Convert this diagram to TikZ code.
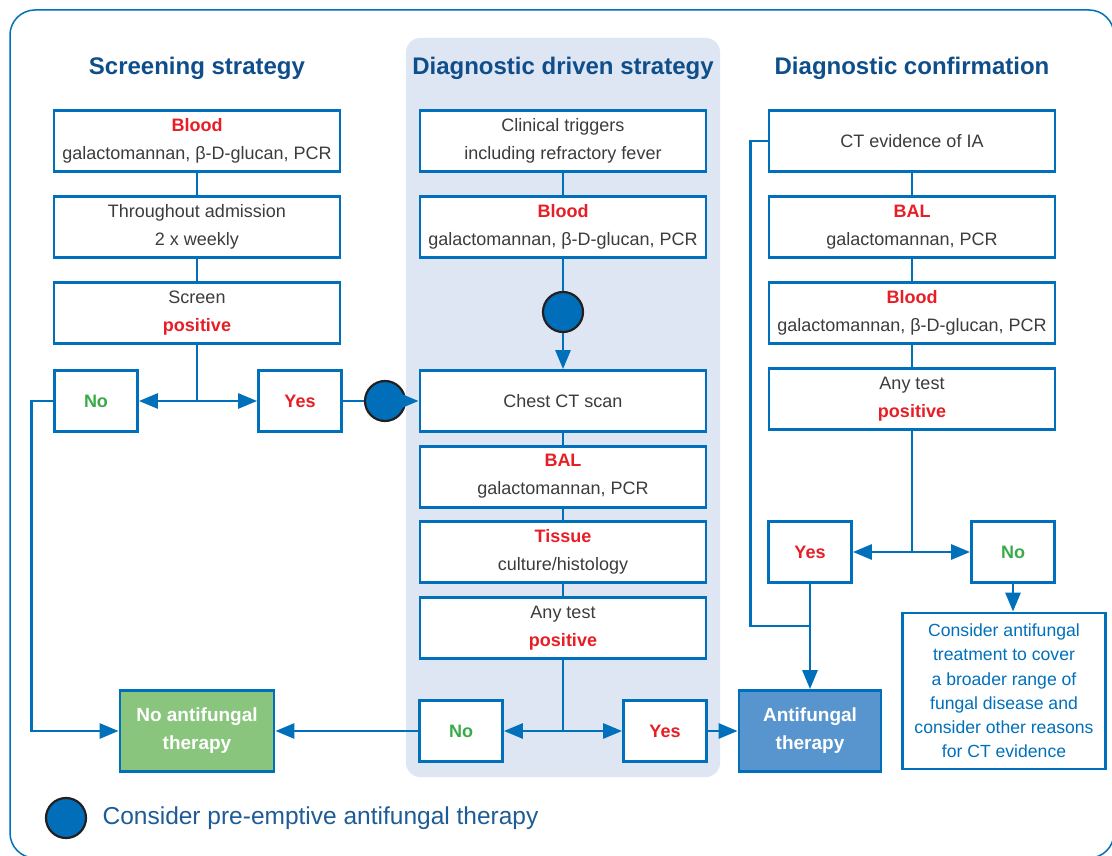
\documentclass[tikz,border=0pt]{standalone}
\usepackage{fontspec}
\setmainfont{Liberation Sans}
\usepackage{xcolor}
\usepackage{tikz}
\usetikzlibrary{arrows.meta,positioning}

\definecolor{lineblue}{RGB}{0,112,187}
\definecolor{titleblue}{RGB}{14,78,138}
\definecolor{legblue}{RGB}{30,92,150}
\definecolor{colshade}{RGB}{223,230,243}
\definecolor{redtxt}{RGB}{232,30,38}
\definecolor{greentxt}{RGB}{58,170,73}
\definecolor{greenfill}{RGB}{138,197,126}
\definecolor{afblue}{RGB}{88,149,206}
\definecolor{bodytxt}{RGB}{60,60,60}
\definecolor{dotblue}{RGB}{0,110,185}
\definecolor{dotrim}{RGB}{35,31,32}

\newcommand{\hl}[1]{\textcolor{redtxt}{\bfseries #1}}
\newcommand{\gn}[1]{\textcolor{greentxt}{#1}}

\begin{document}
\begin{tikzpicture}[
  x=1pt, y=-1pt,
  unit/.style={rectangle, draw=lineblue, line width=2.8pt, fill=white,
               minimum width=286pt, minimum height=61pt, inner sep=0pt,
               align=center, text=bodytxt, font=\fontsize{18}{28}\selectfont},
  answer/.style={unit, minimum width=83pt,
                 font=\fontsize{18}{28}\selectfont\bfseries},
  outcome/.style={unit, minimum height=81pt, text=white,
                  font=\fontsize{19}{28}\selectfont\bfseries},
  heading/.style={font=\fontsize{24}{28}\selectfont\bfseries, text=titleblue},
  dot/.style={circle, fill=dotblue, draw=dotrim, line width=2.2pt,
              minimum size=40pt, inner sep=0pt},
  link/.style={draw=lineblue, line width=2.8pt},
  arr/.style={link, -{Triangle[length=19pt,width=15pt]}},
]
  \fill[white] (0,0) rectangle (1112,856);
  \clip (0,0) rectangle (1112,856);

  % frame and shaded middle column
  \draw[lineblue, line width=1.5pt, rounded corners=25pt] (10,10) rectangle (1114,858);
  \fill[colshade, rounded corners=14pt] (406,38) rectangle (720,777);

  % headings
  \node[heading] (shead) at (197,68) {Screening strategy};
  \node[heading] (dhead) at (563,68) {Diagnostic driven strategy};
  \node[heading] (chead) at (912,68) {Diagnostic confirmation};

  % Screening strategy
  \node[unit] (sblood) at (197,141) {\hl{Blood}\\galactomannan, β-D-glucan, PCR};
  \node[unit, below=22.2pt of sblood] (sadmit) {Throughout admission\\2 x weekly};
  \node[unit, below=22.2pt of sadmit] (sscreen) {Screen\\\hl{positive}};
  \node[answer] (sno) at (96,401) {\gn{No}};
  \node[answer] (syes) at (300,401) {\textcolor{redtxt}{Yes}};
  \node[dot] (sdot) at (385,401) {};

  % Diagnostic driven strategy
  \node[unit] (dtrig) at (563,141) {Clinical triggers\\including refractory fever};
  \node[unit, below=22.2pt of dtrig] (dblood) {\hl{Blood}\\galactomannan, β-D-glucan, PCR};
  \node[dot] (ddot) at (563,312) {};
  \node[unit] (dct) at (563,401) {Chest CT scan};
  \node[unit, below=11.8pt of dct] (dbal) {\hl{BAL}\\galactomannan, PCR};
  \node[unit, below=11.8pt of dbal] (dtissue) {\hl{Tissue}\\culture/histology};
  \node[unit, below=11.8pt of dtissue] (dany) {Any test\\\hl{positive}};
  \node[answer] (dno) at (461,731) {\gn{No}};
  \node[answer] (dyes) at (665,731) {\textcolor{redtxt}{Yes}};

  % Diagnostic confirmation
  \node[unit] (cct) at (912,141) {CT evidence of IA};
  \node[unit, below=22.2pt of cct] (cbal) {\hl{BAL}\\galactomannan, PCR};
  \node[unit, below=22.2pt of cbal] (cblood) {\hl{Blood}\\galactomannan, β-D-glucan, PCR};
  \node[unit, below=22.2pt of cblood] (cany) {Any test\\\hl{positive}};
  \node[answer] (cyes) at (810,552) {\textcolor{redtxt}{Yes}};
  \node[answer] (cno) at (1013,552) {\gn{No}};
  \node[unit, minimum width=203pt, minimum height=156pt, text=lineblue,
        font=\fontsize{17.6}{24.2}\selectfont] (consider) at (1004,691)
    {Consider antifungal\\treatment to cover\\a broader range of\\fungal disease and\\consider other reasons\\for CT evidence};
  \coordinate (cjoin) at (810,626);

  % outcomes
  \node[outcome, minimum width=154pt, fill=greenfill] (noaf) at (197,731) {No antifungal\\therapy};
  \node[outcome, minimum width=142pt, fill=afblue] (af) at (810,731) {Antifungal\\therapy};

  % legend
  \node[dot] (legdot) at (66,818) {};
  \node[right=12pt of legdot, text=legblue, font=\fontsize{24.5}{28}\selectfont] (legtext)
    {Consider pre-emptive antifungal therapy};

  % screening connectors
  \draw[link] (sblood) -- (sadmit);
  \draw[link] (sadmit) -- (sscreen);
  \draw[link] (sscreen) -- (sscreen |- sno) coordinate (sfork);
  \draw[arr] (sfork) -- (sno);
  \draw[arr] (sfork) -- (syes);
  \draw[link] (syes) -- (sdot);
  \draw[arr] (sdot) -- (dct);
  \draw[arr] (sno.west) -- ++(-22,0) |- (noaf.west);

  % diagnostic driven connectors
  \draw[link] (dtrig) -- (dblood);
  \draw[link] (dblood) -- (ddot);
  \draw[arr] (ddot) -- (dct);
  \draw[link] (dct) -- (dbal);
  \draw[link] (dbal) -- (dtissue);
  \draw[link] (dtissue) -- (dany);
  \draw[link] (dany) -- (dany |- dno) coordinate (dfork);
  \draw[arr] (dfork) -- (dno);
  \draw[arr] (dfork) -- (dyes);
  \draw[arr] (dno) -- (noaf);
  \draw[arr] (dyes) -- (af);

  % confirmation connectors
  \draw[link] (cct) -- (cbal);
  \draw[link] (cbal) -- (cblood);
  \draw[link] (cblood) -- (cany);
  \draw[link] (cany) -- (cany |- cyes) coordinate (cfork);
  \draw[arr] (cfork) -- (cyes);
  \draw[arr] (cfork) -- (cno);
  \draw[arr] (cyes) -- (af);
  \draw[link] (cct.west) -- ++(-17,0) |- (cjoin);
  \draw[arr] (cno.south) -- (cno.south |- consider.north);
\end{tikzpicture}
\end{document}
